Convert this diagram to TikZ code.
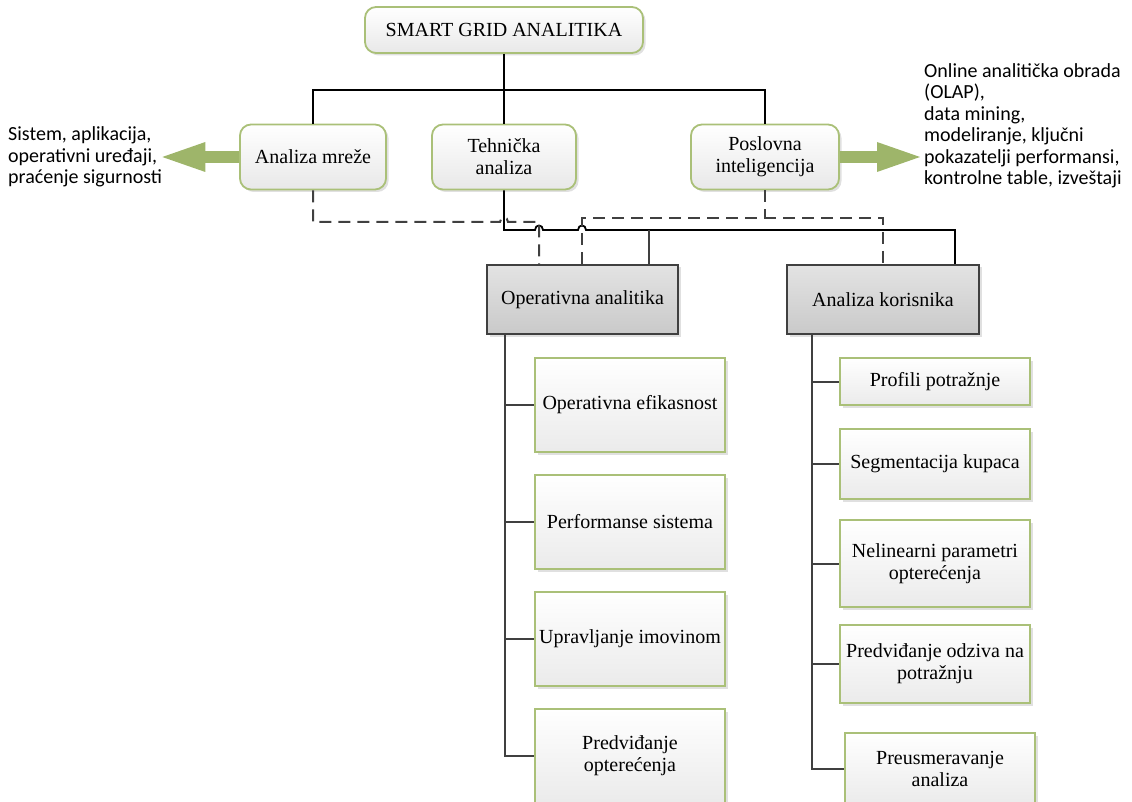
\documentclass[tikz,border=0pt]{standalone}
\usepackage{fontspec}
\setmainfont{Liberation Serif}
\newfontfamily\notefont{Carlito}
\usetikzlibrary{shadows,arrows.meta}

\definecolor{boxgreen}{RGB}{170,192,120}
\definecolor{arrowgreen}{RGB}{158,181,106}
\definecolor{linegray}{RGB}{64,64,64}

\begin{document}
\begin{tikzpicture}[x=1pt,y=-1pt,
  every node/.style={font=\fontsize{20}{22}\selectfont, inner sep=0pt, align=center},
  softshadow/.style={drop shadow={shadow xshift=2.5pt, shadow yshift=-2.5pt, fill=black!35, opacity=0.35}},
  catbox/.style={draw=boxgreen, line width=1.8pt, rounded corners=11pt,
    top color=white, bottom color=black!9, softshadow},
  groupbox/.style={draw=linegray, line width=2pt,
    top color=black!11, bottom color=black!21, softshadow},
  leafbox/.style={draw=boxgreen, line width=1.8pt,
    top color=white, bottom color=black!8, softshadow},
  note/.style={font=\notefont\fontsize{20}{21.5}\selectfont, align=left},
  link/.style={line width=1.8pt, black},
  trunk/.style={line width=2pt, linegray},
  dashlink/.style={line width=2pt, linegray, dash pattern=on 12pt off 7pt},
  bigarrow/.style={arrowgreen, line width=12pt,
    -{Triangle[length=43pt,width=30pt,line width=0pt]}}
]
\useasboundingbox (0,0) rectangle (1132,802);

% top of the hierarchy
\node[catbox, minimum width=278pt, minimum height=46pt] (top) at (504,30) {SMART GRID ANALITIKA};

% second level
\node[catbox, minimum width=146pt, minimum height=65pt] (am) at (313,157) {Analiza mreže};
\node[catbox, minimum width=144pt, minimum height=65pt] (ta) at (504,157) {Tehnička\\analiza};
\node[catbox, minimum width=148pt, minimum height=65pt] (pi) at (765,157) {Poslovna\\inteligencija};

% side notes
\node[note, anchor=west] (leftnote) at (8,157) {Sistem, aplikacija,\\operativni uređaji,\\praćenje sigurnosti};
\node[note, anchor=west] (rightnote) at (924,126) {Online analitička obrada\\(OLAP),\\data mining,\\modeliranje, ključni\\pokazatelji performansi,\\kontrolne table, izveštaji};

% analytics groups
\node[groupbox, minimum width=191pt, minimum height=69pt] (oa) at (582.5,299.5) {Operativna analitika};
\node[groupbox, minimum width=192pt, minimum height=69pt] (ak) at (883,299.5) {Analiza korisnika};

% operational analytics items
\node[leafbox, minimum width=190pt, minimum height=94pt] (l1) at (630,405) {Operativna efikasnost};
\node[leafbox, minimum width=190pt, minimum height=94pt] (l2) at (630,522) {Performanse sistema};
\node[leafbox, minimum width=190pt, minimum height=94pt] (l3) at (630,639) {Upravljanje imovinom};
\node[leafbox, minimum width=190pt, minimum height=94pt] (l4) at (630,756) {Predviđanje\\opterećenja};

% customer analytics items
\node[leafbox, minimum width=190pt, minimum height=47pt] (r1) at (935,381.5) {Profili potražnje};
\node[leafbox, minimum width=190pt, minimum height=70pt] (r2) at (935,464) {Segmentacija kupaca};
\node[leafbox, minimum width=190pt, minimum height=87pt] (r3) at (935,563.5) {Nelinearni parametri\\opterećenja};
\node[leafbox, minimum width=190pt, minimum height=78pt] (r4) at (935,664) {Predviđanje odziva na\\potražnju};
\node[leafbox, minimum width=190pt, minimum height=72pt] (r5) at (940,769) {Preusmeravanje\\analiza};

% upper tree
\coordinate (bus) at (504,90);
\draw[link] (top.south) -- (bus);
\draw[link] (am.north) |- (bus) -| (pi.north);
\draw[link] (bus) -- (ta.north);

% technical analysis feeds both groups (with line jumps)
\coordinate (tbus) at (504,230);
\draw[link] (ta.south) -- (tbus) -- (535,230)
  .. controls (535,224) and (543,224) .. (543,230) -- (578,230)
  .. controls (578,224) and (586,224) .. (586,230) -- (955,230)
  -- (955,230 |- ak.north);
\draw[trunk] (649,230) -- (649,230 |- oa.north);

% network analysis -> operational analytics (dashed)
\draw[dashlink] (am.south) -- (313,222) -- (500,222)
  .. controls (500,216) and (508,216) .. (508,222) -- (539,222)
  -- (539,222 |- oa.north);

% business intelligence -> both groups (dashed)
\draw[dashlink] (pi.south) -- (765,218);
\draw[dashlink] (582,0 |- oa.north) -- (582,218) -- (883,218) -- (ak.north);

% item trunks
\foreach \n in {l1,l2,l3,l4}
  \draw[trunk] (505,0 |- oa.south) |- (\n.west);
\foreach \n in {r1,r2,r3,r4,r5}
  \draw[trunk] (812,0 |- ak.south) |- (\n.west);

% side arrows
\draw[bigarrow] (am.west) -- (leftnote.east);
\draw[bigarrow, shorten >=4pt] (pi.east) -- (rightnote.west |- pi.east);
\end{tikzpicture}
\end{document}
